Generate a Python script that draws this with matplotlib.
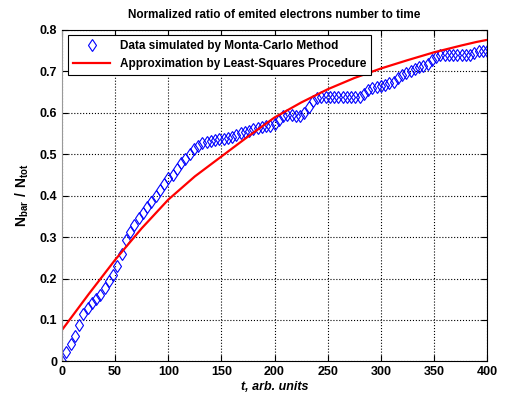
import matplotlib.pyplot as plt
import numpy as np

plt.rcParams['font.family'] = ['Liberation Sans', 'DejaVu Sans']
plt.rcParams['font.weight'] = 'bold'
plt.rcParams['mathtext.fontset'] = 'custom'
plt.rcParams['mathtext.bf'] = 'Liberation Sans:bold'
plt.rcParams['mathtext.rm'] = 'Liberation Sans:bold'

# Monte-Carlo data, sampled every 4 time units
t_mc = list(range(0, 401, 4))
ratio_mc = [0.000, 0.022, 0.043, 0.062, 0.088, 0.115, 0.130, 0.140, 0.150, 0.161,
            0.176, 0.193, 0.208, 0.230, 0.260, 0.292, 0.312, 0.328, 0.345, 0.358,
            0.372, 0.385, 0.398, 0.413, 0.428, 0.441, 0.450, 0.465, 0.478, 0.488,
            0.500, 0.512, 0.520, 0.527, 0.530, 0.532, 0.534, 0.535, 0.537, 0.539,
            0.542, 0.546, 0.550, 0.553, 0.556, 0.560, 0.562, 0.565, 0.567, 0.568,
            0.572, 0.582, 0.591, 0.594, 0.593, 0.591, 0.591, 0.600, 0.614, 0.628,
            0.635, 0.637, 0.638, 0.638, 0.638, 0.638, 0.638, 0.638, 0.638, 0.638,
            0.638, 0.645, 0.655, 0.658, 0.661, 0.665, 0.667, 0.670, 0.673, 0.682,
            0.691, 0.696, 0.700, 0.706, 0.709, 0.712, 0.718, 0.727, 0.734, 0.738,
            0.738, 0.738, 0.738, 0.738, 0.738, 0.738, 0.738, 0.743, 0.748, 0.748,
            0.748]

# least-squares approximation
t_fit = [0, 25, 50, 75, 100, 125, 150, 175, 200, 225, 250, 275, 300, 325, 350, 375, 390, 400]
ratio_fit = [0.076, 0.162, 0.245, 0.321, 0.390, 0.446, 0.494, 0.542, 0.588, 0.624,
             0.656, 0.683, 0.706, 0.726, 0.745, 0.761, 0.770, 0.775]

fig = plt.figure(figsize=(5.07, 3.99), dpi=100)
ax = fig.add_axes([0.1223, 0.094, 0.8383, 0.832])

ax.plot(t_mc, ratio_mc, 'd', color='#0000ff', markerfacecolor='none',
        markersize=6.5, markeredgewidth=0.8, label='Data simulated by Monta-Carlo Method')
ax.plot(t_fit, ratio_fit, '-', color='#ff0000', linewidth=1.6,
        label='Approximation by Least-Squares Procedure')

ax.set_xlim(0, 400)
ax.set_ylim(0, 0.8)
ax.set_xticks(range(0, 401, 50))
ax.set_yticks([0, 0.1, 0.2, 0.3, 0.4, 0.5, 0.6, 0.7, 0.8])
ax.set_yticklabels(['0', '0.1', '0.2', '0.3', '0.4', '0.5', '0.6', '0.7', '0.8'])
ax.tick_params(direction='in', top=True, right=True, labelsize=9, length=4)
ax.grid(True, linestyle=':', color='black', linewidth=0.8)
for s in ax.spines.values():
    s.set_color('black')
ax.spines['left'].set_color('#999999')

ax.set_title('Normalized ratio of emited electrons number to time',
             fontsize=8.5, fontweight='bold', pad=8)
ax.set_xlabel('t, arb. units', fontsize=9, fontweight='bold', style='italic', labelpad=2)
ax.set_ylabel(r'$\mathbf{N_{bar}\ /\ N_{tot}}$', fontsize=10, labelpad=6)

leg = ax.legend(loc='upper left', fontsize=8.5, fancybox=False, edgecolor='black',
                framealpha=1, borderpad=0.4, handlelength=3.2, borderaxespad=0.5)
leg.get_frame().set_linewidth(0.8)

fig.savefig('out.png', dpi=100)
